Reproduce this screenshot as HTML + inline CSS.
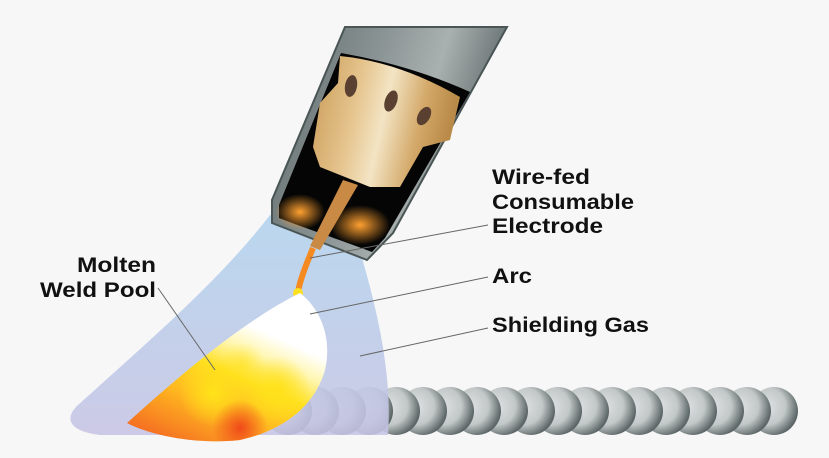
<!DOCTYPE html>
<html><head><meta charset="utf-8"><style>
html,body{margin:0;padding:0;background:#f7f7f7;}
svg{display:block}
text{font-family:"Liberation Sans",Arial,sans-serif;font-weight:bold;font-size:21px;fill:#111}
</style></head><body>
<svg width="829" height="458" viewBox="0 0 829 458" xmlns="http://www.w3.org/2000/svg">
<defs>
<linearGradient id="tube" x1="0" y1="0" x2="1" y2="0.3">
<stop offset="0" stop-color="#5f6a6a"/><stop offset="0.45" stop-color="#8b9494"/><stop offset="0.7" stop-color="#a9b0b0"/><stop offset="1" stop-color="#5a6464"/></linearGradient>
<linearGradient id="gold" x1="0" y1="0" x2="1" y2="0.2">
<stop offset="0" stop-color="#c89a55"/><stop offset="0.35" stop-color="#e6c58f"/><stop offset="0.55" stop-color="#f3e4c4"/><stop offset="0.8" stop-color="#d3a868"/><stop offset="1" stop-color="#b98a48"/></linearGradient>
<linearGradient id="gas" x1="0" y1="0" x2="0" y2="1">
<stop offset="0" stop-color="#b2d3ee"/><stop offset="1" stop-color="#c6c4e4"/></linearGradient>
<radialGradient id="glow" cx="0.5" cy="0.5" r="0.5">
<stop offset="0" stop-color="#ffa030"/><stop offset="1" stop-color="#ffa030" stop-opacity="0"/></radialGradient>
<radialGradient id="bead" cx="0.35" cy="0.4" r="0.65">
<stop offset="0" stop-color="#dfe2e2"/><stop offset="0.6" stop-color="#c2c7c7"/><stop offset="1" stop-color="#5d6767"/></radialGradient>
<radialGradient id="yel" cx="0.5" cy="0.5" r="0.5">
<stop offset="0" stop-color="#ffe21a"/><stop offset="1" stop-color="#ffe21a" stop-opacity="0"/></radialGradient>
<radialGradient id="red" cx="0.5" cy="0.5" r="0.5">
<stop offset="0" stop-color="#f04a1a"/><stop offset="1" stop-color="#f04a1a" stop-opacity="0"/></radialGradient>
<linearGradient id="pool" x1="0.15" y1="1" x2="0.75" y2="0">
<stop offset="0" stop-color="#f46a22"/><stop offset="0.3" stop-color="#ffb820"/><stop offset="0.5" stop-color="#ffe020"/><stop offset="0.65" stop-color="#fff6b0"/><stop offset="0.78" stop-color="#fff"/><stop offset="1" stop-color="#fff"/></linearGradient>
<clipPath id="cp"><path d="M127,423 C180,375 245,320 300,293 C322,310 332,340 325,370 C315,405 285,430 240,440 C195,445 150,435 127,423 Z"/></clipPath>
</defs>
<rect width="829" height="458" fill="#f7f7f7"/>
<g>
<circle cx="774" cy="411" r="24" fill="url(#bead)"/><circle cx="747" cy="411" r="24" fill="url(#bead)"/><circle cx="720" cy="411" r="24" fill="url(#bead)"/><circle cx="693" cy="411" r="24" fill="url(#bead)"/><circle cx="666" cy="411" r="24" fill="url(#bead)"/><circle cx="639" cy="411" r="24" fill="url(#bead)"/><circle cx="612" cy="411" r="24" fill="url(#bead)"/><circle cx="585" cy="411" r="24" fill="url(#bead)"/><circle cx="558" cy="411" r="24" fill="url(#bead)"/><circle cx="531" cy="411" r="24" fill="url(#bead)"/><circle cx="504" cy="411" r="24" fill="url(#bead)"/><circle cx="477" cy="411" r="24" fill="url(#bead)"/><circle cx="450" cy="411" r="24" fill="url(#bead)"/><circle cx="423" cy="411" r="24" fill="url(#bead)"/><circle cx="396" cy="411" r="24" fill="url(#bead)"/><circle cx="369" cy="411" r="24" fill="url(#bead)"/><circle cx="342" cy="411" r="24" fill="url(#bead)"/><circle cx="315" cy="411" r="24" fill="url(#bead)"/><circle cx="288" cy="411" r="24" fill="url(#bead)"/>
</g>
<path d="M270,215 C220,280 150,340 78,405 C62,420 72,432 100,435 L388,435 C392,380 380,320 362,258 Z" fill="url(#gas)" opacity="0.88"/>
<path d="M345,27 L507,27 L393,233 L367,260 L272,223 L272,200 Z" fill="url(#tube)"/>
<path d="M345,27 L507,27 L393,233 L367,260 L272,223 L272,200 Z" fill="none" stroke="#4a5555" stroke-width="2"/>
<path d="M341,53 Q410,65 470,92 L385,238 L372,252 C340,240 305,228 279,218 L279,205 Z" fill="#050505"/>
<ellipse cx="300" cy="212" rx="25" ry="18" fill="url(#glow)"/>
<ellipse cx="360" cy="225" rx="30" ry="20" fill="url(#glow)"/>
<path d="M340,56 Q400,62 460,97 L450,140 L423,147 L400,187 L370,187 L320,167 L313,147 L320,103 L338,83 Z" fill="url(#gold)"/>
<ellipse cx="351" cy="86" rx="6" ry="11" fill="#5a4030" transform="rotate(10 351 86)"/>
<ellipse cx="391" cy="101" rx="6" ry="11" fill="#5a4030" transform="rotate(20 391 101)"/>
<ellipse cx="424" cy="116" rx="6" ry="10" fill="#5a4030" transform="rotate(30 424 116)"/>
<path d="M343,180 L358,185 L320,250 L310,246 Z" fill="#c98a45"/>
<path d="M313,248 C306,265 300,280 298,292" stroke="#f58a20" stroke-width="6" fill="none"/>
<circle cx="298" cy="293" r="5" fill="#ffe020"/>
<path d="M127,423 C180,375 245,320 300,293 C322,310 332,340 325,370 C315,405 285,430 240,440 C195,445 150,435 127,423 Z" fill="url(#pool)"/>
<g clip-path="url(#cp)">
<circle cx="213" cy="393" r="34" fill="url(#yel)"/>
<circle cx="277" cy="390" r="34" fill="url(#yel)"/>
<circle cx="242" cy="366" r="24" fill="url(#yel)" opacity="0.6"/>
<circle cx="240" cy="428" r="28" fill="url(#red)"/>
</g>
<g stroke="#666" stroke-width="1" fill="none">
<line x1="488" y1="225" x2="310" y2="258"/>
<line x1="488" y1="277" x2="310" y2="314"/>
<line x1="488" y1="328" x2="360" y2="356"/>
<line x1="158" y1="288" x2="215" y2="370"/>
</g>
<text x="492" y="184" textLength="98" lengthAdjust="spacingAndGlyphs">Wire-fed</text>
<text x="492" y="209" textLength="142" lengthAdjust="spacingAndGlyphs">Consumable</text>
<text x="492" y="233" textLength="111" lengthAdjust="spacingAndGlyphs">Electrode</text>
<text x="492" y="283" textLength="40" lengthAdjust="spacingAndGlyphs">Arc</text>
<text x="492" y="332" textLength="157" lengthAdjust="spacingAndGlyphs">Shielding Gas</text>
<text x="77" y="272" textLength="79" lengthAdjust="spacingAndGlyphs">Molten</text>
<text x="40" y="297" textLength="116" lengthAdjust="spacingAndGlyphs">Weld Pool</text>
</svg>
</body></html>
